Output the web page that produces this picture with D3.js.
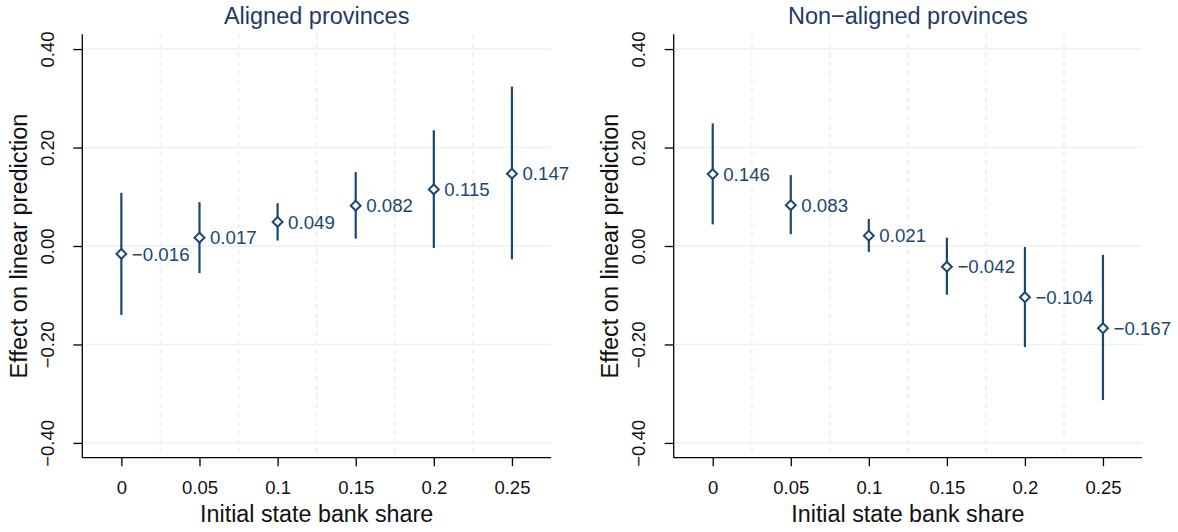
<!DOCTYPE html>
<html>
<head>
<meta charset="utf-8">
<script src="https://cdn.jsdelivr.net/npm/d3@7"></script>
<style>
  html, body { margin: 0; padding: 0; background: #ffffff; }
  svg { display: block; font-family: "Liberation Sans", Arial, Helvetica, sans-serif; }
</style>
</head>
<body>
<svg id="chart" width="1178" height="532"></svg>
<script>
// ---- data ----
const xValues = [0, 0.05, 0.1, 0.15, 0.2, 0.25];
const xTickLabels = ["0", "0.05", "0.1", "0.15", "0.2", "0.25"];
const yTicks = [-0.4, -0.2, 0, 0.2, 0.4];
const yTickLabels = ["\u22120.40", "\u22120.20", "0.00", "0.20", "0.40"];
const xGrid = [0.025, 0.075, 0.125, 0.175, 0.225];

const alignedEst = [-0.016, 0.017, 0.049, 0.082, 0.115, 0.147];
const alignedLo  = [-0.140, -0.055, 0.011, 0.015, -0.004, -0.027];
const alignedHi  = [0.108, 0.089, 0.087, 0.150, 0.235, 0.324];

const nonAlignedEst = [0.146, 0.083, 0.021, -0.042, -0.104, -0.167];
const nonAlignedLo  = [0.044, 0.024, -0.012, -0.099, -0.205, -0.313];
const nonAlignedHi  = [0.249, 0.144, 0.055, 0.017, -0.002, -0.018];

const panelTitles = ["Aligned provinces", "Non\u2212aligned provinces"];
const xTitle = "Initial state bank share";
const yTitle = "Effect on linear prediction";

// ---- style ----
const navy = "#1a476f";
const titleColor = "#1f3a66";
const gridColor = "#eaf2f3";

const svg = d3.select("#chart");

const panels = [
  { left: 82.3, right: 551, title: panelTitles[0], est: alignedEst, lo: alignedLo, hi: alignedHi },
  { left: 673.7, right: 1142, title: panelTitles[1], est: nonAlignedEst, lo: nonAlignedLo, hi: nonAlignedHi }
];

const plotTop = 34.3, plotBottom = 457.7;
const fmt = v => (v < 0 ? "\u2212" : "") + Math.abs(v).toFixed(3);

panels.forEach(p => {
  const x = d3.scaleLinear().domain([-0.025, 0.275]).range([p.left, p.right]);
  const y = d3.scaleLinear().domain([-0.43, 0.43]).range([plotBottom, plotTop]);
  const g = svg.append("g");

  // horizontal grid
  g.selectAll(".hg").data(yTicks).join("line")
    .attr("x1", p.left).attr("x2", p.right)
    .attr("y1", d => y(d)).attr("y2", d => y(d))
    .attr("stroke", gridColor).attr("stroke-width", 1.6);

  // vertical dashed grid
  g.selectAll(".vg").data(xGrid).join("line")
    .attr("x1", d => x(d)).attr("x2", d => x(d))
    .attr("y1", plotTop).attr("y2", plotBottom)
    .attr("stroke", gridColor).attr("stroke-width", 1.9)
    .attr("stroke-dasharray", "5,4");

  // y axis
  const yAxis = d3.axisLeft(y).tickValues(yTicks).tickSize(9)
    .tickFormat((d, i) => yTickLabels[i]);
  const ya = g.append("g").attr("transform", `translate(${p.left},0)`).call(yAxis);
  ya.select(".domain").attr("d", `M0,${plotTop}V${plotBottom}`).attr("stroke", "#000").attr("stroke-width", 1.3);
  ya.selectAll(".tick line").attr("stroke", "#000").attr("stroke-width", 1.3);
  ya.selectAll(".tick text")
    .attr("x", null).attr("dy", null)
    .attr("transform", "translate(-28.5,0) rotate(-90)")
    .attr("text-anchor", "middle")
    .attr("font-size", 18.5).attr("fill", "#111")
    .attr("font-family", "Liberation Sans, Arial, sans-serif");

  // x axis
  const xAxis = d3.axisBottom(x).tickValues(xValues).tickSize(8.5)
    .tickFormat((d, i) => xTickLabels[i]);
  const xa = g.append("g").attr("transform", `translate(0,${plotBottom})`).call(xAxis);
  xa.select(".domain").attr("d", `M${p.left},0H${p.right}`).attr("stroke", "#000").attr("stroke-width", 1.3);
  xa.selectAll(".tick line").attr("stroke", "#000").attr("stroke-width", 1.3);
  xa.selectAll(".tick text")
    .attr("y", 36).attr("dy", null)
    .attr("font-size", 18.5).attr("fill", "#111")
    .attr("font-family", "Liberation Sans, Arial, sans-serif");

  // titles
  const cx = (p.left + p.right) / 2;
  g.append("text").attr("x", cx).attr("y", 23.5)
    .attr("text-anchor", "middle").attr("font-size", 23.5).attr("fill", titleColor)
    .text(p.title);
  g.append("text").attr("x", cx).attr("y", 521.5)
    .attr("text-anchor", "middle").attr("font-size", 23.3).attr("fill", "#111")
    .text(xTitle);
  g.append("text")
    .attr("transform", `translate(${p.left - 55.3},${(plotTop + plotBottom) / 2}) rotate(-90)`)
    .attr("text-anchor", "middle").attr("font-size", 23.5).attr("fill", "#111")
    .text(yTitle);

  // CI lines
  g.selectAll(".ci").data(xValues).join("line")
    .attr("x1", d => x(d)).attr("x2", d => x(d))
    .attr("y1", (d, i) => y(p.lo[i])).attr("y2", (d, i) => y(p.hi[i]))
    .attr("stroke", navy).attr("stroke-width", 2.2);

  // diamonds
  const sym = d3.symbol().type(d3.symbolDiamond2).size(62);
  g.selectAll(".pt").data(xValues).join("path")
    .attr("transform", (d, i) => `translate(${x(d)},${y(p.est[i])})`)
    .attr("d", sym)
    .attr("fill", "#fff").attr("stroke", navy).attr("stroke-width", 2);

  // labels
  g.selectAll(".lbl").data(xValues).join("text")
    .attr("x", d => x(d) + 10.5)
    .attr("y", (d, i) => y(p.est[i]) + 6.7)
    .attr("font-size", 18.7).attr("fill", navy)
    .text((d, i) => fmt(p.est[i]));
});
</script>
</body>
</html>
